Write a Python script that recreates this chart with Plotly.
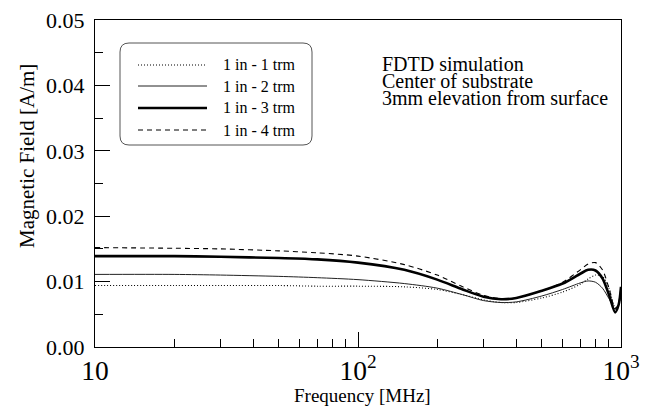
import plotly.graph_objects as go

freq = [10, 20, 30, 50, 70, 100, 150, 200, 250, 300, 350, 400, 500, 600, 700, 750, 800, 850, 900, 950, 980, 1000]
h_1trm = [0.0094, 0.0094, 0.0094, 0.0094, 0.0093, 0.0093, 0.0092, 0.0088, 0.0080, 0.0072, 0.0068, 0.0068,
          0.0075, 0.0084, 0.0096, 0.0104, 0.0110, 0.0108, 0.0090, 0.0060, 0.0065, 0.0090]
h_2trm = [0.0111, 0.0111, 0.0110, 0.0108, 0.0106, 0.0103, 0.0097, 0.0090, 0.0080, 0.0071, 0.0068, 0.0069,
          0.0078, 0.0088, 0.0098, 0.0101, 0.0099, 0.0090, 0.0074, 0.0058, 0.0065, 0.0085]
h_3trm = [0.0139, 0.0139, 0.0138, 0.0136, 0.0134, 0.0129, 0.0118, 0.0103, 0.0088, 0.0077, 0.0073, 0.0075,
          0.0086, 0.0097, 0.0112, 0.0118, 0.0117, 0.0105, 0.0080, 0.0053, 0.0065, 0.0092]
h_4trm = [0.0152, 0.0151, 0.0150, 0.0147, 0.0144, 0.0139, 0.0126, 0.0110, 0.0092, 0.0079, 0.0074, 0.0075,
          0.0086, 0.0099, 0.0118, 0.0127, 0.0129, 0.0118, 0.0090, 0.0058, 0.0068, 0.0095]
series_names = ["1 in - 1 trm", "1 in - 2 trm", "1 in - 3 trm", "1 in - 4 trm"]
y_ticks = [0.00, 0.01, 0.02, 0.03, 0.04, 0.05]
note_lines = ["FDTD simulation", "Center of substrate", "3mm elevation from surface"]
x_title = "Frequency [MHz]"
y_title = "Magnetic Field [A/m]"

W, H = 645, 406
L, R, T, B = 95, 621, 20, 347
FONT = "Liberation Serif"

def px(x):
    return (x - L) / (R - L)

def py(y):
    return (B - y) / (B - T)

styles = [
    dict(color="black", width=1.1, dash="1px,2px"),
    dict(color="#222", width=1.0),
    dict(color="black", width=2.6),
    dict(color="black", width=1.1, dash="5px,4px"),
]
data = [h_1trm, h_2trm, h_3trm, h_4trm]

fig = go.Figure()
for name, vals, st in zip(series_names, data, styles):
    fig.add_trace(go.Scatter(x=freq, y=vals, mode="lines", name=name,
                             line=dict(shape="spline", smoothing=0.8, **st),
                             showlegend=False))

# custom legend box (rounded)
x0, x1, y0, y1, r = px(120), px(312), py(43), py(145), 9
rx, ry = r / (R - L), r / (B - T)
path = (f"M {x0+rx},{y0} L {x1-rx},{y0} Q {x1},{y0} {x1},{y0-ry} "
        f"L {x1},{y1+ry} Q {x1},{y1} {x1-rx},{y1} L {x0+rx},{y1} "
        f"Q {x0},{y1} {x0},{y1+ry} L {x0},{y0-ry} Q {x0},{y0} {x0+rx},{y0} Z")
shapes = [dict(type="path", path=path, xref="paper", yref="paper",
               line=dict(color="#555", width=1), fillcolor="white", layer="above")]
annotations = []
rows = [65, 86, 108, 130]
for name, st, yy in zip(series_names, styles, rows):
    shapes.append(dict(type="line", xref="paper", yref="paper",
                       x0=px(138), x1=px(207), y0=py(yy), y1=py(yy),
                       line=st, layer="above"))
    annotations.append(dict(xref="paper", yref="paper", x=px(221), y=py(yy),
                            text=name, showarrow=False, xanchor="left", yanchor="middle",
                            font=dict(family=FONT, size=16, color="black")))

for i, line in enumerate(note_lines):
    annotations.append(dict(xref="paper", yref="paper", x=px(380), y=py(64 + 17 * i),
                            text=line, showarrow=False, xanchor="left", yanchor="middle",
                            font=dict(family=FONT, size=20, color="black")))

annotations.append(dict(xref="paper", yref="paper", x=px(362), y=py(395), text=x_title,
                        showarrow=False, xanchor="center", yanchor="middle",
                        font=dict(family=FONT, size=19, color="black")))
annotations.append(dict(xref="paper", yref="paper", x=px(27), y=py(156), text=y_title,
                        showarrow=False, xanchor="center", yanchor="middle", textangle=-90,
                        font=dict(family=FONT, size=21, color="black")))

fig.update_layout(
    width=W, height=H,
    margin=dict(l=L, r=W - R, t=T, b=H - B, autoexpand=False),
    paper_bgcolor="white", plot_bgcolor="white",
    font=dict(family=FONT, color="black"),
    shapes=shapes, annotations=annotations,
)
fig.update_xaxes(type="log", range=[1, 3], dtick=1, exponentformat="power",
                 showgrid=False, zeroline=False, automargin=False,
                 showline=True, linecolor="black", linewidth=1.2, mirror=True,
                 ticks="inside", ticklen=15, tickcolor="black", tickwidth=1,
                 minor=dict(ticks="inside", ticklen=8, dtick="D1", tickcolor="black", showgrid=False),
                 tickfont=dict(family=FONT, size=22))
fig.update_yaxes(range=[0, 0.05], tickvals=y_ticks, tickformat=".2f",
                 showgrid=False, zeroline=False, automargin=False,
                 showline=True, linecolor="black", linewidth=1.2, mirror=True,
                 ticks="inside", ticklen=15, tickcolor="black", tickwidth=1,
                 ticklabelstandoff=5,
                 minor=dict(ticks="inside", ticklen=8, dtick=0.005, tickcolor="black", showgrid=False),
                 tickfont=dict(family=FONT, size=22))

fig.write_html("out.html")
